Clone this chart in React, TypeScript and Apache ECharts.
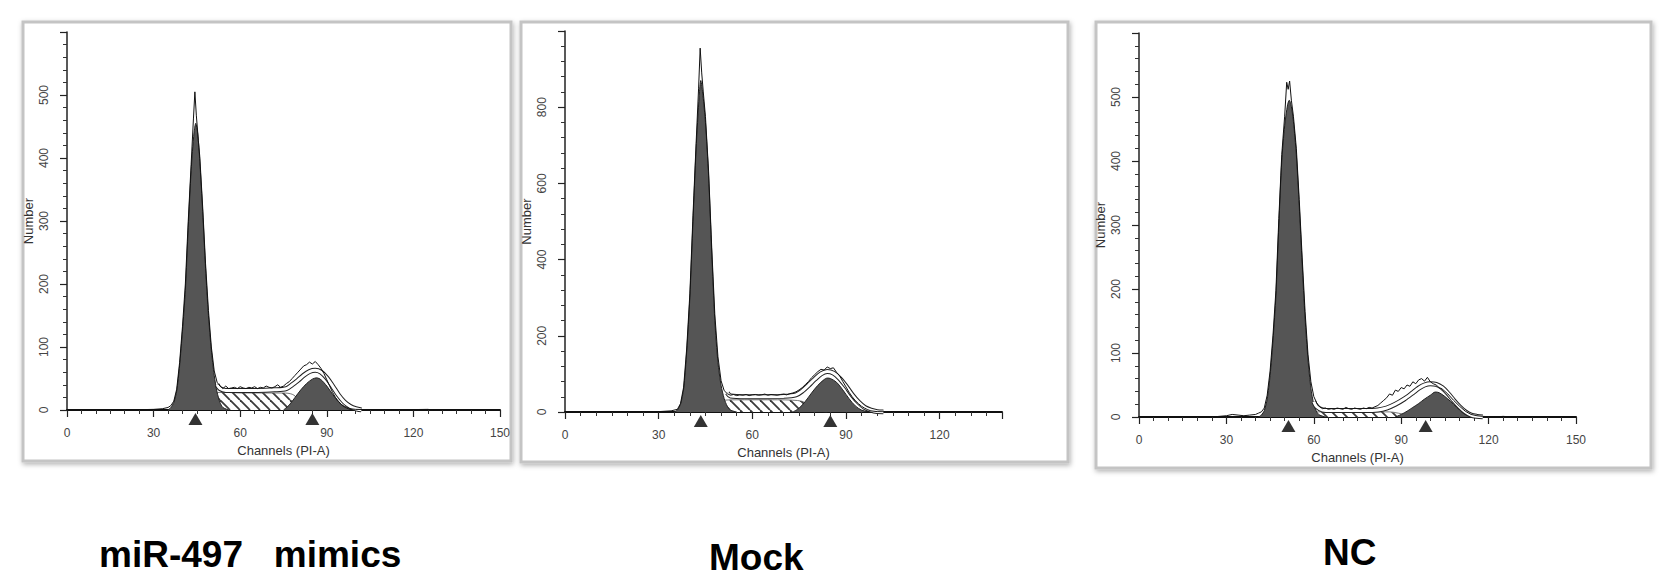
import React, { useEffect, useRef } from "react";
import * as echarts from "echarts";

// ---------- data ----------
const PANEL_TITLES = ["miR-497   mimics", "Mock", "NC"];
const X_MAX = [150, 140, 150];
const X_STEP = 30;
const Y_MAX = [600, 1000, 600];
const Y_STEP = [100, 200, 100];
const X_NAME = "Channels (PI-A)";
const Y_NAME = "Number";

// Panel 1: miR-497 mimics
const G1_MIMICS = [[35,0],[36,4],[37,12],[38,30],[39,70],[40,125],[41,190],[42,290],[43,380],[44,440],[44.6,455],[45.3,438],[46,395],[47,315],[48,225],[49,150],[50,95],[51,55],[52,28],[53,12],[54,4],[56,0]];
const S_MIMICS = [[44,0],[47,10],[49,22],[51,27],[55,28],[60,27],[65,27],[70,27],[75,27],[78,25],[80,18],[82,8],[84,2],[86,0]];
const G2_MIMICS = [[75,0],[77,8],[79,20],[81,32],[83,42],[85,49],[86.5,51],[88,48],[90,38],[92,25],[94,13],[96,5],[98,1],[100,0]];
const MODEL_MIMICS = [[52,40],[53,34],[55,31],[60,31],[66,31],[72,32],[76,34],[78,40],[80,47],[82,55],[84,61],[86,63],[88,60],[90,51],[92,38],[94,24],[96,13],[98,6],[100,2],[102,0]];
const DATA_MIMICS = [[0,0],[20,0],[30,1],[33,2],[35,4],[36,7],[37,14],[38,33],[39,75],[40,132],[41,200],[42,300],[43,390],[43.8,462],[44.3,505],[44.8,468],[45.5,428],[46,402],[47,322],[48,232],[49,158],[50,100],[51,62],[52,44],[53,38],[54,34],[55,38],[56,34],[57,35],[58,36],[59,34],[60,37],[61,35],[62,34],[63,36],[64,35],[65,37],[66,34],[67,36],[68,35],[69,38],[70,36],[71,35],[72,37],[73,40],[74,36],[75,38],[76,42],[77,45],[78,50],[79,55],[80,60],[81,65],[82,70],[83,72],[84,76],[85,73],[86,77],[87,72],[88,66],[89,58],[90,48],[91,38],[92,28],[93,20],[94,14],[95,9],[96,6],[97,4],[98,2],[100,1],[110,0],[125,1],[127,0],[150,0]];
const MARKERS_MIMICS = [44.5, 85];

// Panel 2: Mock
const G1_MOCK = [[35,0],[36,5],[37,20],[38,60],[39,160],[40,300],[41,500],[42,690],[43,830],[43.5,870],[44.2,830],[45,760],[46,620],[47,420],[48,240],[49,130],[50,70],[51,35],[52,15],[53,5],[55,0]];
const S_MOCK = [[44,0],[47,12],[49,25],[51,31],[56,32],[62,32],[68,32],[73,31],[76,28],[78,18],[80,8],[82,2],[84,0]];
const G2_MOCK = [[73,0],[75,10],[77,28],[79,50],[81,70],[83,85],[84,89],[85,88],[87,78],[89,58],[91,35],[93,16],[95,5],[97,1],[99,0]];
const MODEL_MOCK = [[52,50],[53,42],[58,40],[64,40],[70,41],[74,45],[76,55],[78,70],[80,86],[82,100],[84,106],[86,102],[88,88],[90,68],[92,45],[94,26],[96,12],[98,5],[100,1],[102,0]];
const DATA_MOCK = [[0,0],[25,0],[30,1],[34,3],[36,7],[37,22],[38,65],[39,168],[40,310],[41,515],[42,705],[42.8,850],[43.3,955],[43.8,890],[44.3,840],[45,775],[46,632],[47,432],[48,255],[49,145],[50,82],[51,56],[52,48],[53,44],[54,46],[55,43],[56,45],[57,44],[58,46],[59,43],[60,45],[61,46],[62,44],[63,45],[64,47],[65,44],[66,46],[67,45],[68,44],[69,46],[70,47],[71,45],[72,48],[73,50],[74,53],[75,58],[76,64],[77,72],[78,80],[79,90],[80,98],[81,106],[82,112],[83,110],[84,118],[85,114],[86,116],[87,104],[88,95],[89,80],[90,66],[91,52],[92,40],[93,30],[94,22],[95,15],[96,10],[97,6],[98,3],[100,1],[105,0],[140,0]];
const MARKERS_MOCK = [43.5, 85];

// Panel 3: NC
const G1_NC = [[41,0],[42,3],[43,10],[44,28],[45,65],[46,120],[47,190],[48,300],[49,400],[50,455],[51,488],[51.6,495],[52.3,485],[53,462],[54,410],[55,330],[56,240],[57,155],[58,90],[59,45],[60,20],[61,8],[62,3],[64,0]];
const S_NC = [[54,0],[57,5],[60,8],[70,8],[80,8],[86,8],[89,6],[92,3],[95,0]];
const G2_NC = [[88,0],[90,4],[92,9],[94,15],[96,21],[98,28],[100,34],[101.7,39],[103,38],[105,32],[107,24],[109,15],[111,7],[113,2],[115,0]];
const MODEL_NC = [[60,24],[61,16],[63,11],[66,10],[72,10],[78,10],[82,11],[85,14],[88,20],[91,28],[94,38],[96,45],[98,50],[100,52],[102,51],[104,46],[106,37],[108,26],[110,16],[112,8],[114,3],[116,1],[118,0]];
const DATA_NC = [[0,0],[25,0],[30,2],[32,4],[34,3],[36,2],[38,3],[40,4],[41,6],[42,8],[43,14],[44,34],[45,72],[46,128],[47,198],[48,310],[49,410],[50,470],[50.7,523],[51.2,512],[51.7,525],[52.3,495],[53,470],[54,420],[55,340],[56,250],[57,165],[58,98],[59,55],[60,32],[61,22],[62,16],[63,13],[64,14],[65,12],[66,13],[67,12],[68,14],[69,13],[70,12],[71,15],[72,13],[73,12],[74,14],[75,13],[76,12],[77,14],[78,13],[79,15],[80,14],[81,16],[82,18],[83,22],[84,26],[85,30],[86,36],[87,34],[88,42],[89,40],[90,46],[91,44],[92,50],[93,48],[94,55],[95,52],[96,58],[97,60],[98,56],[99,62],[100,55],[101,52],[102,50],[103,46],[104,44],[106,36],[108,26],[110,17],[112,9],[114,4],[116,2],[118,1],[122,0],[125,1],[128,0],[150,0]];
const MARKERS_NC = [51.3, 98.4];

const PANELS = [
  { g1: G1_MIMICS, s: S_MIMICS, g2: G2_MIMICS, model: MODEL_MIMICS, data: DATA_MIMICS, markers: MARKERS_MIMICS },
  { g1: G1_MOCK, s: S_MOCK, g2: G2_MOCK, model: MODEL_MOCK, data: DATA_MOCK, markers: MARKERS_MOCK },
  { g1: G1_NC, s: S_NC, g2: G2_NC, model: MODEL_NC, data: DATA_NC, markers: MARKERS_NC },
];

// ---------- layout ----------
const W = 1677;
const H = 588;
const GRIDS = [
  { left: 67, top: 32, width: 433, height: 378 },
  { left: 565, top: 31, width: 437, height: 381 },
  { left: 1139, top: 33, width: 437, height: 384 },
];
const FRAMES = [
  { x: 23, y: 22, width: 488, height: 439 },
  { x: 521, y: 22, width: 547, height: 440 },
  { x: 1096, y: 22, width: 555, height: 446 },
];
const TITLE_POS = [
  { x: 99, y: 554 },
  { x: 709, y: 557 },
  { x: 1323, y: 552 },
];
const FONT = '"Liberation Sans", Arial, Helvetica, sans-serif';

function makeHatch(): HTMLCanvasElement {
  const c = document.createElement("canvas");
  c.width = 10;
  c.height = 10;
  const ctx = c.getContext("2d")!;
  ctx.fillStyle = "#ffffff";
  ctx.fillRect(0, 0, 10, 10);
  ctx.strokeStyle = "#3a3a3a";
  ctx.lineWidth = 1.8;
  for (const o of [-10, 0, 10]) {
    ctx.beginPath();
    ctx.moveTo(o, 0);
    ctx.lineTo(o + 10, 10);
    ctx.stroke();
  }
  return c;
}

export default function App() {
  const ref = useRef<HTMLDivElement>(null);

  useEffect(() => {
    document.body.style.margin = "0";
    if (!ref.current) return;
    const chart = echarts.init(ref.current, null, { renderer: "svg", width: W, height: H });
    const hatch = makeHatch();

    const xAxis = GRIDS.map((_, i) => ({
      type: "value",
      gridIndex: i,
      min: 0,
      max: X_MAX[i],
      interval: X_STEP,
      axisLine: { show: true, onZero: false, lineStyle: { color: "#111", width: 2 } },
      axisTick: { show: true, length: 7, lineStyle: { color: "#222", width: 1.2 } },
      minorTick: { show: true, splitNumber: 6, length: 4, lineStyle: { color: "#333", width: 1 } },
      splitLine: { show: false },
      minorSplitLine: { show: false },
      axisLabel: {
        fontSize: 12,
        color: "#444",
        margin: 17,
        fontFamily: FONT,
        formatter: (v: number) => (v % X_STEP === 0 ? String(v) : ""),
      },
      name: X_NAME,
      nameLocation: "middle",
      nameGap: 31,
      nameTextStyle: { fontSize: 13, color: "#333", fontFamily: FONT },
    }));

    const yAxis = GRIDS.map((_, i) => ({
      type: "value",
      gridIndex: i,
      min: 0,
      max: Y_MAX[i],
      interval: Y_STEP[i],
      axisLine: { show: true, lineStyle: { color: "#222", width: 1.5 } },
      axisTick: { show: true, length: 7, lineStyle: { color: "#222", width: 1.2 } },
      minorTick: { show: true, splitNumber: 5, length: 4, lineStyle: { color: "#333", width: 1 } },
      splitLine: { show: false },
      minorSplitLine: { show: false },
      axisLabel: {
        rotate: 90,
        fontSize: 12,
        color: "#444",
        margin: 17,
        fontFamily: FONT,
        showMaxLabel: false,
      },
      name: Y_NAME,
      nameLocation: "middle",
      nameGap: 32,
      nameRotate: 90,
      nameTextStyle: { fontSize: 13, color: "#333", fontFamily: FONT },
    }));

    const series: any[] = [];
    PANELS.forEach((p, i) => {
      const ax = { xAxisIndex: i, yAxisIndex: i };
      series.push({
        type: "line", ...ax, data: p.s, symbol: "none", smooth: 0.3, z: 2,
        lineStyle: { width: 0.8, color: "#555" },
        areaStyle: { color: { image: hatch, repeat: "repeat" }, opacity: 1 },
      });
      series.push({
        type: "line", ...ax, data: p.g1, symbol: "none", smooth: 0.25, z: 3,
        lineStyle: { width: 1, color: "#222" },
        areaStyle: { color: "#555555", opacity: 1 },
      });
      series.push({
        type: "line", ...ax, data: p.g2, symbol: "none", smooth: 0.3, z: 3,
        lineStyle: { width: 1, color: "#222" },
        areaStyle: { color: "#555555", opacity: 1 },
      });
      series.push({
        type: "line", ...ax, data: p.model, symbol: "none", smooth: 0.3, z: 4,
        lineStyle: { width: 5, color: "#222" },
      });
      series.push({
        type: "line", ...ax, data: p.model, symbol: "none", smooth: 0.3, z: 5,
        lineStyle: { width: 3, color: "#ffffff" },
      });
      series.push({
        type: "line", ...ax, data: p.data, symbol: "none", smooth: false, z: 6,
        lineStyle: { width: 1, color: "#111" },
      });
      series.push({
        type: "scatter", ...ax, data: p.markers.map((m) => [m, 0]),
        symbol: "triangle", symbolSize: [14, 12], symbolOffset: [0, 9],
        itemStyle: { color: "#000" }, z: 7, clip: false,
      });
    });

    const graphic: any[] = [];
    FRAMES.forEach((f) => {
      graphic.push({
        type: "rect",
        z: -10,
        shape: { ...f },
        style: {
          fill: "#ffffff",
          stroke: "#c4c4c4",
          lineWidth: 3,
          shadowBlur: 5,
          shadowColor: "rgba(0,0,0,0.3)",
          shadowOffsetX: 1,
          shadowOffsetY: 2,
        },
      });
    });
    PANEL_TITLES.forEach((t, i) => {
      graphic.push({
        type: "text",
        z: 10,
        x: TITLE_POS[i].x,
        y: TITLE_POS[i].y,
        style: {
          text: t,
          fill: "#000",
          fontSize: 37,
          fontWeight: "bold",
          fontFamily: FONT,
          align: "left",
          verticalAlign: "middle",
        },
      });
    });

    chart.setOption({
      animation: false,
      backgroundColor: "#ffffff",
      grid: GRIDS.map((g) => ({ ...g, show: false })),
      xAxis,
      yAxis,
      series,
      graphic,
    });

    return () => chart.dispose();
  }, []);

  return <div ref={ref} style={{ width: W, height: H }} />;
}
